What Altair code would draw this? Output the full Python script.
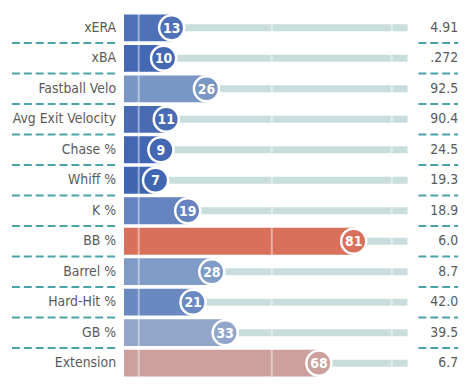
import altair as alt
import pandas as pd

metrics = ["xERA", "xBA", "Fastball Velo", "Avg Exit Velocity", "Chase %", "Whiff %",
           "K %", "BB %", "Barrel %", "Hard-Hit %", "GB %", "Extension"]
percentiles = [13, 10, 26, 11, 9, 7, 19, 81, 28, 21, 33, 68]
values = ["4.91", ".272", "92.5", "90.4", "24.5", "19.3", "18.9", "6.0", "8.7", "42.0", "39.5", "6.7"]
guide_pcts = [0.7, 50.4, 95.2]

df = pd.DataFrame({"metric": metrics, "pct": percentiles, "value": values,
                   "idx": list(range(len(metrics)))})
sep_df = df[df["idx"] < len(metrics) - 1]
guides = pd.DataFrame({"g": guide_pcts})

FONT = "Liberation Sans Narrow, DejaVu Sans Condensed, Roboto"
H = 369
yscale = alt.Scale(domain=[-0.5, len(metrics) - 0.5], reverse=True, nice=False, zero=False)
XMIN, XMAX = -4.8, 101.1
xscale = alt.Scale(domain=[XMIN, XMAX], nice=False, zero=False)

color_scale = alt.Scale(
    domain=[0, 10, 20, 30, 50, 70, 80, 100],
    range=["#3560ad", "#4468b3", "#6886c0", "#86a1c8", "#c2c4cc", "#c99e92", "#d8735f", "#d62b1f"],
)

base = alt.Chart(df).transform_calculate(
    y0="datum.idx - 0.44", y1="datum.idx + 0.44", xs=str(XMIN), xe=str(XMAX))

# Left labels panel
labels = base.mark_text(align="right", baseline="middle", font=FONT, fontSize=14, color="#5a5a5a").encode(
    x=alt.value(109), y=alt.Y("idx:Q", scale=yscale, axis=None), text="metric:N")
lsep = alt.Chart(sep_df).transform_calculate(ys="datum.idx + 0.5").mark_rule(
    color="#4aa3a8", strokeWidth=2, strokeDash=[8, 4]).encode(
    x=alt.value(4), x2=alt.value(109), y=alt.Y("ys:Q", scale=yscale, axis=None))
left = alt.layer(lsep, labels).properties(width=117, height=H)

# Middle bars panel
track = base.mark_rule(color="#c9dddd", strokeWidth=7).encode(
    x=alt.X("pct:Q", scale=xscale, axis=None), x2="xe:Q",
    y=alt.Y("idx:Q", scale=yscale, axis=None))
bars = base.mark_rect().encode(
    x=alt.X("xs:Q", scale=xscale, axis=None), x2="pct:Q",
    y=alt.Y("y0:Q", scale=yscale, axis=None), y2="y1:Q",
    color=alt.Color("pct:Q", scale=color_scale, legend=None))
grid = alt.Chart(guides).mark_rule(color="white", strokeWidth=2, opacity=0.45).encode(
    x=alt.X("g:Q", scale=xscale, axis=None), y=alt.value(0), y2=alt.value(H))
circles = base.mark_circle(size=640, opacity=1, stroke="white", strokeWidth=2.5).encode(
    x=alt.X("pct:Q", scale=xscale, axis=None), y=alt.Y("idx:Q", scale=yscale, axis=None),
    color=alt.Color("pct:Q", scale=color_scale, legend=None))
ctext = base.mark_text(align="center", baseline="middle", font=FONT, fontSize=14,
                       fontWeight="bold", color="white", dy=1).encode(
    x=alt.X("pct:Q", scale=xscale, axis=None), y=alt.Y("idx:Q", scale=yscale, axis=None),
    text="pct:Q")
mid = alt.layer(track, bars, grid, circles, ctext).properties(width=286, height=H)

# Right values panel
vals = base.mark_text(align="right", baseline="middle", font=FONT, fontSize=14, color="#5a5a5a").encode(
    x=alt.value(47), y=alt.Y("idx:Q", scale=yscale, axis=None), text="value:N")
rsep = alt.Chart(sep_df).transform_calculate(ys="datum.idx + 0.5").mark_rule(
    color="#4aa3a8", strokeWidth=2, strokeDash=[8, 4]).encode(
    x=alt.value(7), x2=alt.value(47), y=alt.Y("ys:Q", scale=yscale, axis=None))
right = alt.layer(rsep, vals).properties(width=56, height=H)

chart = alt.hconcat(left, mid, right, spacing=0).properties(
    padding=0).configure_view(stroke=None)

chart.save("out.html", embed_options={"renderer": "svg", "actions": False})
